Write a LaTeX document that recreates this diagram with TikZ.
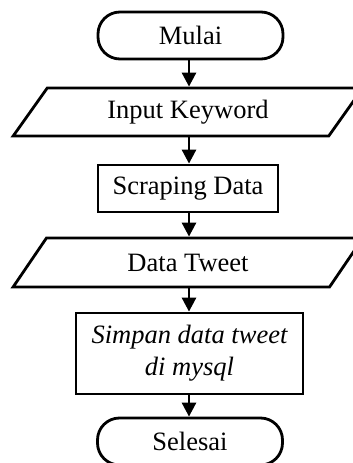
\documentclass[tikz,border=0pt]{standalone}
\usepackage{fontspec}
\setmainfont{Liberation Serif}
\usetikzlibrary{shapes.geometric,arrows.meta}
\begin{document}
\begin{tikzpicture}[x=1pt,y=-1pt,
  base/.style={draw,line width=2.8pt,font=\fontsize{26.5}{32}\selectfont,align=center,inner sep=0pt},
  term/.style={base,rectangle,rounded corners=22pt,minimum width=185pt,minimum height=47pt},
  proc/.style={base,rectangle},
  io/.style={base,trapezium,trapezium stretches=true,trapezium left angle=51,trapezium right angle=129,minimum width=350pt},
  arr/.style={line width=2.8pt,-{Triangle[width=14pt,length=14pt]}}]
\useasboundingbox (0,0) rectangle (353,463);
\node[term] (mulai) at (190.5,35.5) {Mulai};
\node[io,minimum height=48pt] (input) at (188,112) {Input Keyword};
\node[proc,minimum width=180pt,minimum height=47pt] (scrap) at (188,188.5) {Scraping Data};
\node[io,minimum height=49pt] (tweet) at (188,262.5) {Data Tweet};
\node[proc,minimum width=227pt,minimum height=81pt] (simpan) at (189.5,353.5) {\itshape Simpan data tweet\\\itshape di mysql};
\node[term] (selesai) at (190,441.5) {Selesai};
\draw[arr] (mulai.south -| 189,0) -- (input.north -| 189,0);
\draw[arr] (input.south -| 189,0) -- (scrap.north -| 189,0);
\draw[arr] (scrap.south -| 189,0) -- (tweet.north -| 189,0);
\draw[arr] (tweet.south -| 189,0) -- (simpan.north -| 189,0);
\draw[arr] (simpan.south -| 189,0) -- (selesai.north -| 189,0);
\end{tikzpicture}
\end{document}
